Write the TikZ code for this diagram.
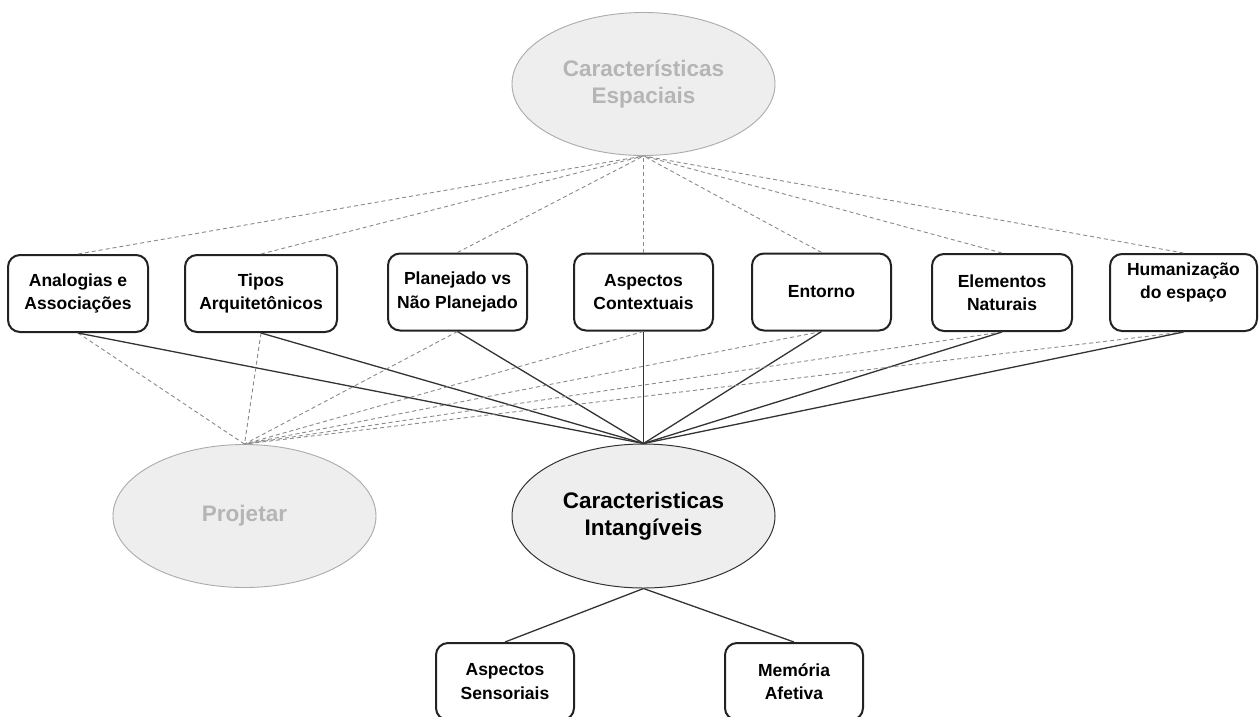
\documentclass[tikz,border=0pt]{standalone}
\usepackage{fontspec}
\setmainfont{Liberation Sans}
\usetikzlibrary{shapes.geometric}
\definecolor{boxc}{HTML}{222222}
\definecolor{lightfill}{HTML}{EEEEEE}
\definecolor{lightborder}{HTML}{ABABAB}
\definecolor{lighttext}{HTML}{B5B5B5}
\definecolor{dashc}{HTML}{8A8A8A}
\definecolor{solidc}{HTML}{333333}
\begin{document}
\begin{tikzpicture}[x=1pt,y=-1pt,
  box/.style={draw=boxc, line width=2pt, rounded corners=12pt, fill=white,
    minimum height=77pt, inner sep=0pt, align=center,
    font=\fontsize{17.5}{23.5}\selectfont\bfseries},
  faded/.style={ellipse, draw=lightborder, line width=0.9pt, fill=lightfill,
    minimum width=263pt, minimum height=143pt, inner sep=0pt, align=center,
    text=lighttext, font=\fontsize{22.5}{27}\selectfont\bfseries},
  mainell/.style={ellipse, draw=solidc, line width=1pt, fill=lightfill,
    minimum width=263pt, minimum height=144pt, inner sep=0pt, align=center,
    text=black, font=\fontsize{22.5}{27}\selectfont\bfseries},
  dashline/.style={draw=dashc, line width=0.9pt, dash pattern=on 4pt off 3pt},
  solidline/.style={draw=solidc, line width=1.3pt}]
\useasboundingbox (0,0) rectangle (1260,716);
\fill[white] (0,0) rectangle (1260,716);

% nodes
\node[faded] (ce) at (643.5,84) {Características\\Espaciais};
\node[box, minimum width=140pt] (b1) at (78,293.5) {Analogias e\\Associações};
\node[box, minimum width=152pt] (b2) at (261,293.5) {Tipos\\Arquitetônicos};
\node[box, minimum width=139pt] (b3) at (457.5,292) {Planejado vs\\Não Planejado};
\node[box, minimum width=139pt] (b4) at (643.5,292) {Aspectos\\Contextuais};
\node[box, minimum width=139pt] (b5) at (821.5,292) {Entorno};
\node[box, minimum width=140pt] (b6) at (1002,292.5) {Elementos\\Naturais};
\node[box, minimum width=147pt] (b7) at (1183.5,292.5) {Humanização\\do espaço\\\mbox{}};
\node[faded] (pr) at (244.5,516) {Projetar};
\node[mainell] (ci) at (643.5,516) {Caracteristicas\\Intangíveis};
\node[box, minimum width=138pt] (as) at (505,681.5) {Aspectos\\Sensoriais};
\node[box, minimum width=138pt] (ma) at (794,681.5) {Memória\\Afetiva};

% connectors
\foreach \b in {b1,b2,b3,b4,b5,b6,b7}{
  \draw[dashline] (\b.north) -- (ce.south);
  \draw[dashline] (\b.south) -- (pr.north);
  \draw[solidline] (\b.south) -- (ci.north);
}
\draw[solidline] (ci.south) -- (as.north);
\draw[solidline] (ci.south) -- (ma.north);
\end{tikzpicture}
\end{document}
